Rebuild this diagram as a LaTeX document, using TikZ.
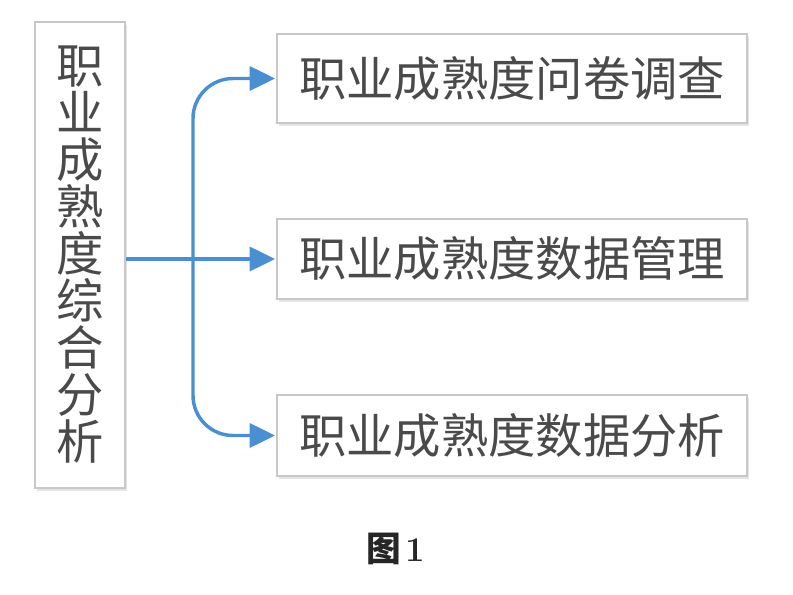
\documentclass[tikz,border=0pt]{standalone}
\usepackage{fontspec}
\newfontfamily\cjk{Noto Sans CJK SC}
\usepackage{tikz}
\usetikzlibrary{arrows.meta, positioning, shadows}
\definecolor{flowblue}{HTML}{4A8FD2}
\definecolor{boxgray}{HTML}{C8C8C8}
\definecolor{textgray}{HTML}{4A4A4A}
\tikzset{%
  block/.style={rectangle, draw=boxgray, line width=0.9pt, fill=white, text=textgray, inner sep=0pt,
    font=\cjk\fontsize{35.5}{35.25}\selectfont,
    drop shadow={shadow xshift=1.5pt, shadow yshift=-2pt, fill=black, opacity=0.10}},
  sideblock/.style={block, minimum width=67.5pt, minimum height=349.5pt, align=center},
  itemblock/.style={block, minimum width=352.5pt},
  line/.style={draw=flowblue, line width=2.6pt, rounded corners=30pt, shorten >=1pt,
    -{Triangle[length=19pt, width=18pt]}}}

\begin{document}
\begin{tikzpicture}[x=0.75pt, y=-0.75pt]
    \useasboundingbox (0,0) rectangle (793,595);
    % left: whole analysis
    \node [sideblock] (whole) at (80,255) {职\\业\\成\\熟\\度\\综\\合\\分\\析};
    % right: the three parts
    \node [itemblock, minimum height=66.75pt] (survey) at (512,78.5) {职业成熟度问卷调查};
    \node [itemblock, minimum height=60pt] (manage) at (512,259) {职业成熟度数据管理};
    \node [itemblock, minimum height=60.75pt] (analysis) at (512,435.5) {职业成熟度数据分析};
    \coordinate (split) at (193,259);
    \draw [line] (whole.east |- manage.west) -- (manage.west);
    \draw [line] (split) |- (survey.west);
    \draw [line] (split) |- (analysis.west);
    \node [font=\bfseries\fontsize{26}{28}\selectfont, text=black!85] (caption) at (396,549) {{\cjk 图}\hspace{3pt}1};
  \end{tikzpicture}
\end{document}
